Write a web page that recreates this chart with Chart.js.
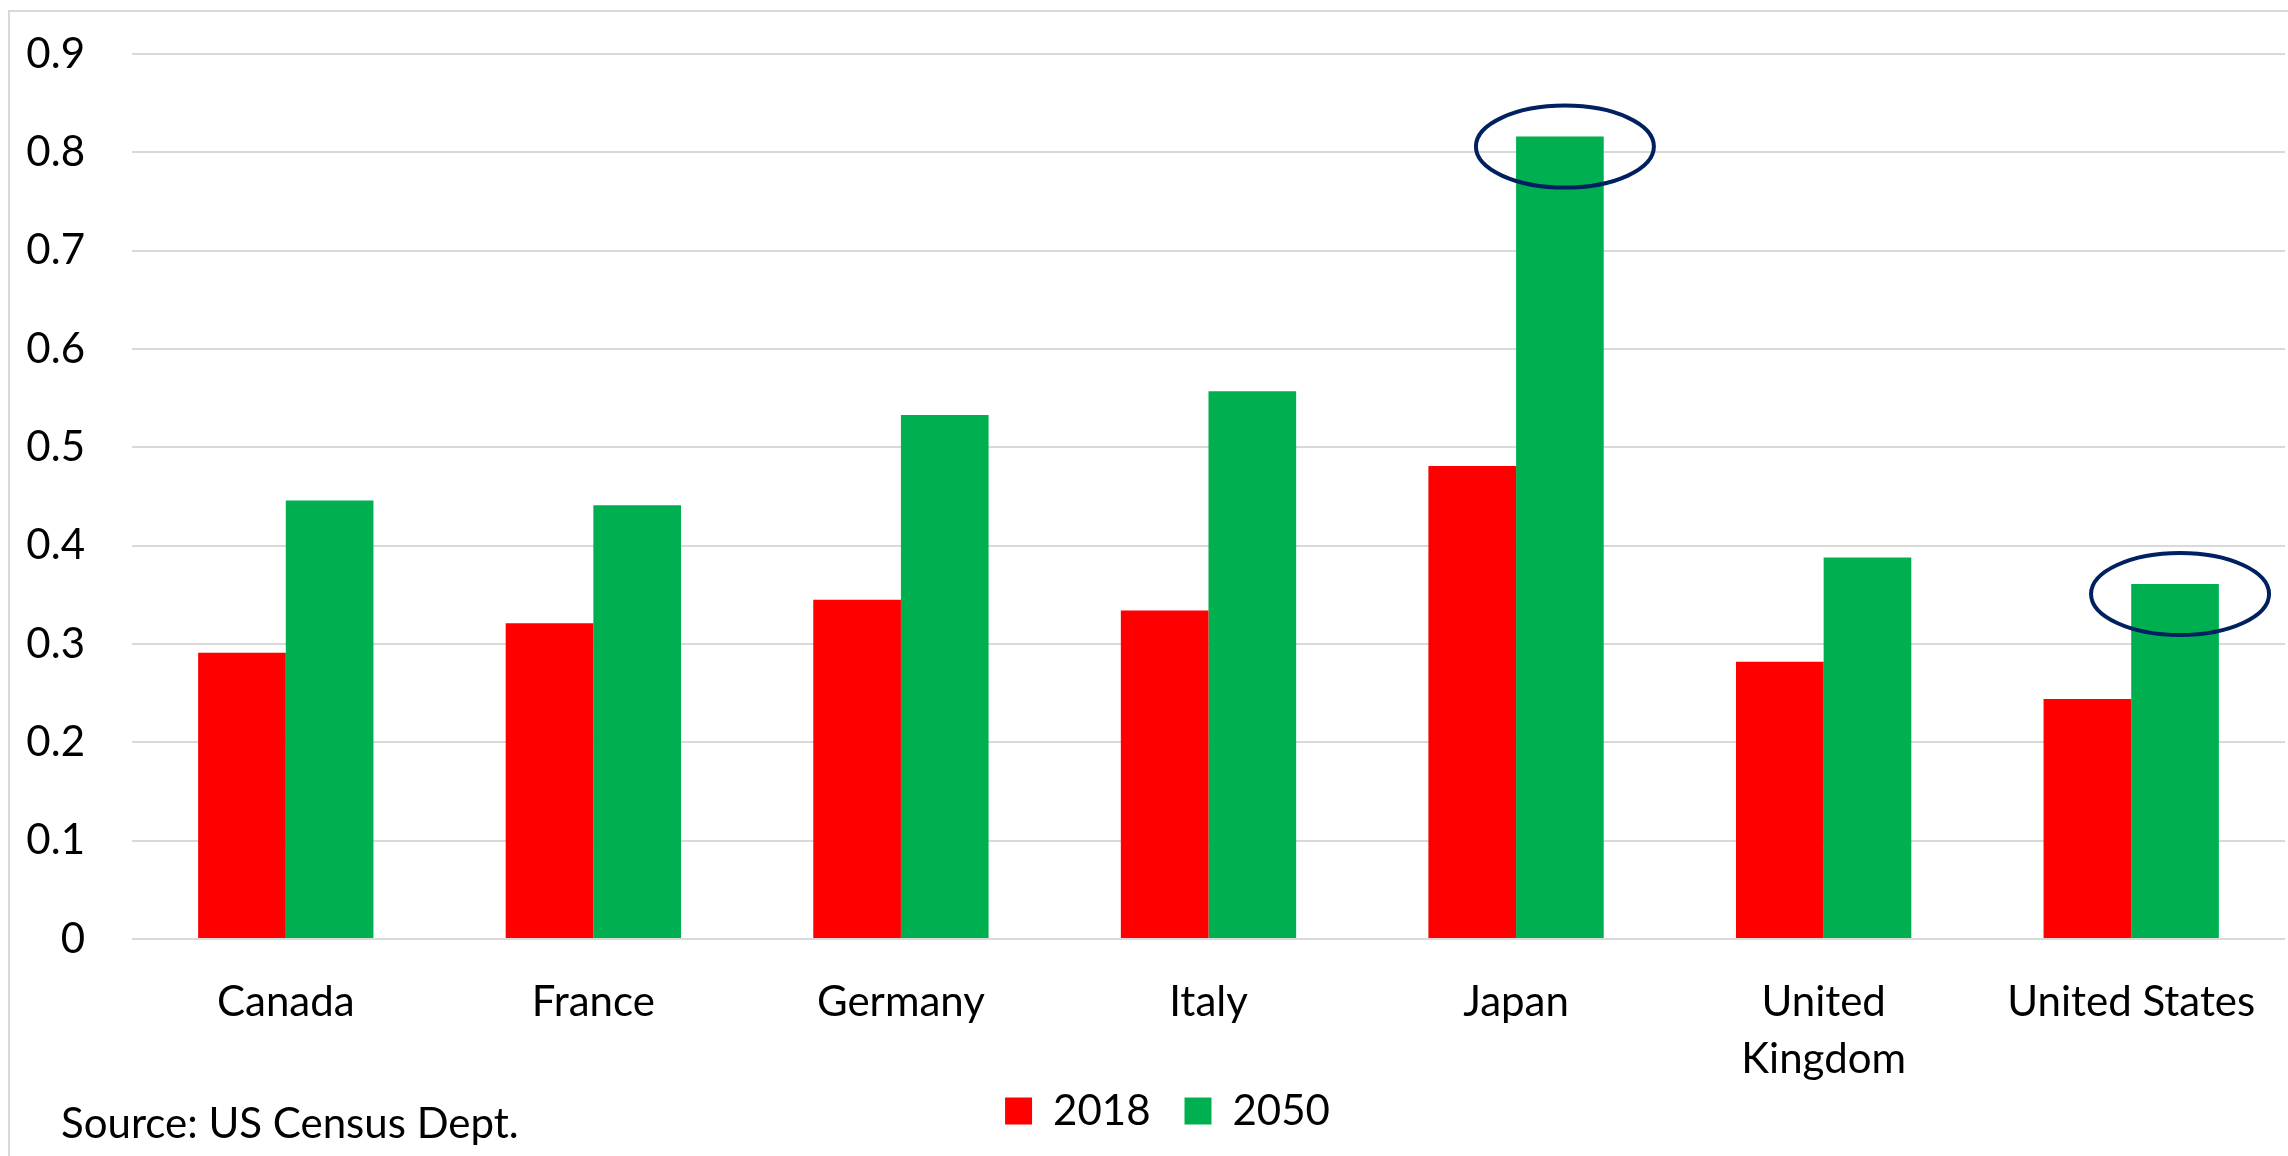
<!DOCTYPE html>
<html>
<head>
<meta charset="utf-8">
<script src="https://cdn.jsdelivr.net/npm/chart.js@4/dist/chart.umd.min.js"></script>
<style>
  html, body { margin: 0; padding: 0; background: #fff; }
  #wrap { width: 2288px; height: 1156px; }
</style>
</head>
<body>
<div id="wrap"><canvas id="barChart" width="2288" height="1156"></canvas></div>
<script>
const countries = ['Canada', 'France', 'Germany', 'Italy', 'Japan', ['United', 'Kingdom'], 'United States'];
const values2018 = [0.291, 0.321, 0.345, 0.334, 0.481, 0.282, 0.244];
const values2050 = [0.446, 0.441, 0.533, 0.557, 0.816, 0.388, 0.361];
const yTicks = [0, 0.1, 0.2, 0.3, 0.4, 0.5, 0.6, 0.7, 0.8, 0.9];
const circled = [4, 6]; // Japan, United States (2050 bars)
const sourceNote = 'Source: US Census Dept.';

const fontFamily = 'Lato, "Open Sans", sans-serif';

// frame, source note and the circles around the highlighted bars
const extras = {
  id: 'extras',
  afterLayout(chart) {
    // let the two-line x labels run below the axis box, nudge the legend
    chart.scales.x.bottom = chart.height;
    const lg = chart.legend;
    lg.top -= 14; lg.bottom -= 14;
    lg.left += 12; lg.right += 12;
  },
  afterDraw(chart) {
    const ctx = chart.ctx;
    ctx.save();
    ctx.strokeStyle = '#d9d9d9';
    ctx.lineWidth = 2;
    ctx.strokeRect(9, 11, chart.width + 20, chart.height + 20);

    ctx.fillStyle = '#000';
    ctx.font = '42px ' + fontFamily;
    ctx.textBaseline = 'alphabetic';
    ctx.textAlign = 'left';
    ctx.fillText(sourceNote, 61, 1138);

    const meta = chart.getDatasetMeta(1);
    ctx.strokeStyle = '#002060';
    ctx.lineWidth = 4;
    circled.forEach(i => {
      const bar = meta.data[i];
      ctx.beginPath();
      ctx.ellipse(bar.x + 5, bar.y + 10, 89, 41, 0, 0, Math.PI * 2);
      ctx.stroke();
    });
    ctx.restore();
  }
};

const ctx = document.getElementById('barChart').getContext('2d');
new Chart(ctx, {
  type: 'bar',
  data: {
    labels: countries,
    datasets: [{
      label: '2018',
      data: values2018,
      backgroundColor: '#ff0000'
    }, {
      label: '2050',
      data: values2050,
      backgroundColor: '#00b050'
    }]
  },
  options: {
    responsive: false,
    animation: false,
    devicePixelRatio: 1,
    categoryPercentage: 0.57,
    barPercentage: 1.0,
    layout: { padding: { left: 26, right: 3, top: 54, bottom: 0 } },
    scales: {
      x: {
        grid: { display: false },
        border: { display: false },
        afterFit(scale) { scale.height = 131; },
        ticks: {
          color: '#000',
          font: { family: fontFamily, size: 42, lineHeight: 1.36 },
          padding: 27,
          maxRotation: 0,
          autoSkip: false
        }
      },
      y: {
        min: 0,
        max: 0.9,
        afterBuildTicks(axis) { axis.ticks = yTicks.map(v => ({ value: v })); },
        afterFit(scale) { scale.width = 106; scale.paddingTop = 0; },
        grid: { color: '#d9d9d9', lineWidth: 2, drawTicks: false },
        border: { display: false },
        ticks: {
          color: '#000',
          font: { family: fontFamily, size: 42 },
          padding: 47,
          callback: v => String(Math.round(v * 10) / 10)
        }
      }
    },
    plugins: {
      legend: {
        position: 'bottom',
        labels: {
          color: '#000',
          font: { family: fontFamily, size: 42 },
          boxWidth: 27,
          boxHeight: 27,
          padding: 34
        }
      },
      tooltip: { enabled: false }
    }
  },
  plugins: [extras]
});
</script>
</body>
</html>
